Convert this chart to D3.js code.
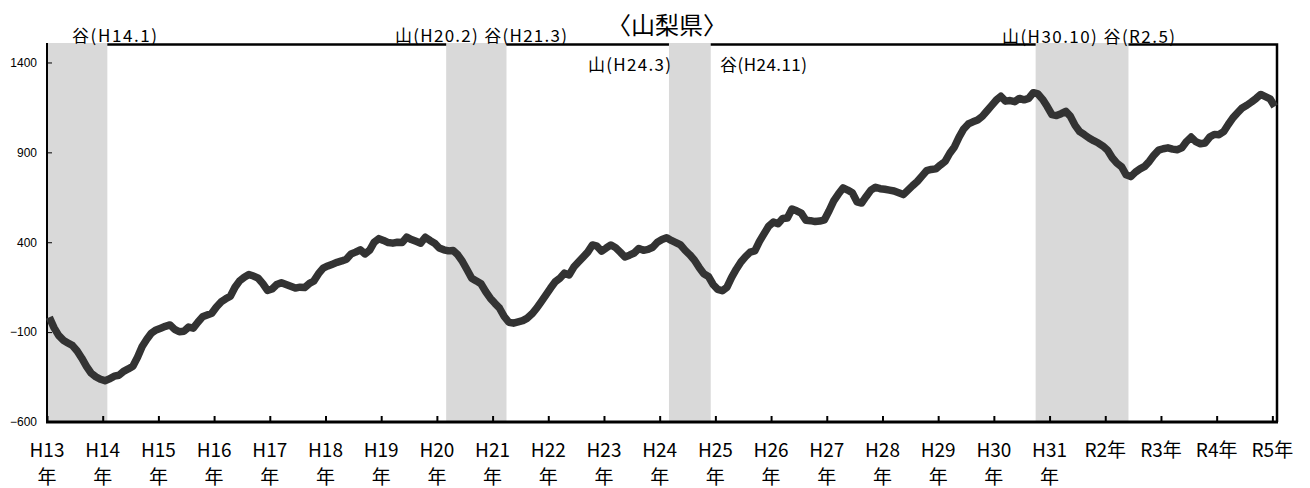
<!DOCTYPE html>
<html><head><meta charset="utf-8">
<script src="https://cdn.jsdelivr.net/npm/d3@7"></script>
<style>
body{margin:0;background:#fff;}
svg{display:block;font-family:"Noto Sans CJK JP","Noto Sans",sans-serif;}
</style>
</head><body>
<svg id="chart" width="1310" height="488"></svg>
<script>
// ---- data ----
const chartTitle = "〈山梨県〉";
// monthly index values, Jan 2001 (H13.1) .. Jan 2023 (R5.1)
const ciValues = [
  -17,-75,-118,-145,-160,-175,-205,-245,-290,-328,-348,-362,
  -370,-360,-345,-340,-318,-305,-290,-240,-180,-140,-105,-88,
  -78,-68,-60,-85,-98,-95,-72,-78,-45,-15,-5,5,
  40,68,85,100,150,185,205,220,212,200,170,132,
  140,165,175,165,155,145,150,148,170,185,225,256,
  268,278,288,296,306,335,345,358,335,355,400,420,
  410,398,395,400,398,428,415,405,395,428,410,395,
  368,358,352,354,330,293,247,200,185,169,126,89,
  60,33,-13,-45,-50,-43,-36,-22,2,33,70,107,
  145,180,200,228,218,262,290,317,345,385,378,350,
  368,385,370,345,318,328,340,365,355,360,372,400,
  415,425,410,398,385,355,330,300,260,225,210,165,
  138,130,150,205,250,290,320,345,352,405,448,490,
  512,503,532,535,585,575,562,522,520,515,518,525,
  575,630,668,702,690,675,625,618,655,690,706,698,
  695,690,685,675,665,690,715,738,768,798,805,808,
  830,850,895,930,985,1030,1058,1070,1080,1100,1130,1160,
  1190,1212,1185,1188,1182,1200,1192,1200,1232,1225,1195,1155,
  1110,1105,1115,1128,1100,1050,1015,998,980,965,952,935,
  912,870,840,820,775,765,790,808,822,850,885,912,
  920,925,918,915,925,960,985,960,948,952,985,1000,
  998,1015,1055,1092,1120,1147,1162,1180,1200,1222,1210,1198,
  1155
];
const yearLabels = ["H13年","H14年","H15年","H16年","H17年","H18年","H19年","H20年","H21年","H22年",
  "H23年","H24年","H25年","H26年","H27年","H28年","H29年","H30年","H31年","R2年","R3年","R4年","R5年"];
const yTickValues = [-600,-100,400,900,1400];
// recession periods as [first month index, last month index]
const recessionStart = [0, 86, 134, 213];
const recessionEnd   = [12, 98, 142, 232];
const turnLabels = ["谷(H14.1)","山(H20.2) 谷(H21.3)","山(H24.3)","谷(H24.11)","山(H30.10) 谷(R2.5)"];

// ---- layout ----
const M = {l: 47, r: 1277, t: 44.5, b: 422};
const nCats = ciValues.length;
const svg = d3.select("#chart");

const x = d3.scaleLinear().domain([0, nCats]).range([M.l, M.r]);
const y = d3.scaleLinear().domain([-600, 1500]).range([M.b, M.t]);

// plot frame (top / right)
svg.append("path")
  .attr("d", `M${M.l},${M.t}H${M.r}V${M.b}`)
  .attr("fill","none").attr("stroke","#000").attr("stroke-width",2.5);

// recession shading
svg.append("g").selectAll("rect")
  .data(recessionStart.map((s,i)=>[s, recessionEnd[i]]))
  .join("rect")
  .attr("x", d => x(d[0]))
  .attr("width", d => x(d[1]+1) - x(d[0]))
  .attr("y", M.t - 1.5)
  .attr("height", M.b - M.t + 1.5)
  .attr("fill", "#d9d9d9");

// y axis
const yAxis = d3.axisLeft(y).tickValues(yTickValues).tickSize(-5).tickPadding(10)
  .tickFormat(d3.format("d"));
const gy = svg.append("g").attr("transform", `translate(${M.l},0)`).call(yAxis);
gy.select(".domain").remove();
gy.selectAll(".tick line").attr("stroke","#000").attr("stroke-width",1);
gy.selectAll(".tick text").attr("font-size",12).attr("fill","#000")
  .attr("font-family","'Liberation Sans','Noto Sans',sans-serif");
svg.append("line").attr("x1",M.l).attr("x2",M.l).attr("y1",M.t-1.5).attr("y2",M.b)
  .attr("stroke","#000").attr("stroke-width",2);

// x axis
const tickIdx = d3.range(0, nCats + 1, 12);
const xAxis = d3.axisBottom(x).tickValues(tickIdx).tickSize(-6).tickFormat("");
const gx = svg.append("g").attr("transform", `translate(0,${M.b})`).call(xAxis);
gx.select(".domain").remove();
gx.selectAll(".tick line").attr("stroke","#000").attr("stroke-width",2);
svg.append("line").attr("x1",M.l-1).attr("x2",M.r+1).attr("y1",M.b).attr("y2",M.b)
  .attr("stroke","#000").attr("stroke-width",3);

// x labels
const xl = svg.append("g").attr("font-size",19).attr("fill","#000").attr("text-anchor","middle");
yearLabels.forEach((lab,i) => {
  const cx = x(i*12);
  if (lab.startsWith("H")) {
    xl.append("text").attr("x",cx).attr("y",448).attr("dominant-baseline","central").text(lab.slice(0,-1));
    xl.append("text").attr("x",cx).attr("y",475).attr("dominant-baseline","central").text(lab.slice(-1));
  } else {
    xl.append("text").attr("x",cx).attr("y",448).attr("dominant-baseline","central").text(lab);
  }
});

// line
const line = d3.line().x((d,i)=>x(i+0.5)).y(d=>y(d));
svg.append("path").datum(ciValues).attr("d", line)
  .attr("fill","none").attr("stroke","#333").attr("stroke-width",7.5)
  .attr("stroke-linejoin","round").attr("stroke-linecap","butt");

// title
svg.append("text").attr("x",667).attr("y",23).attr("text-anchor","middle")
  .attr("dominant-baseline","central").attr("font-size",24).text(chartTitle);

// turning point labels
const turnPos = [[72,34,85],[395,34,172],[588,63,83],[720,63,87],[1002,35,173]];
svg.append("g").attr("font-size",17).selectAll("text").data(turnLabels).join("text")
  .attr("x",(d,i)=>turnPos[i][0]).attr("y",(d,i)=>turnPos[i][1])
  .attr("dominant-baseline","central")
  .attr("textLength",(d,i)=>turnPos[i][2]).attr("lengthAdjust","spacing")
  .text(d=>d);
</script>
</body></html>
